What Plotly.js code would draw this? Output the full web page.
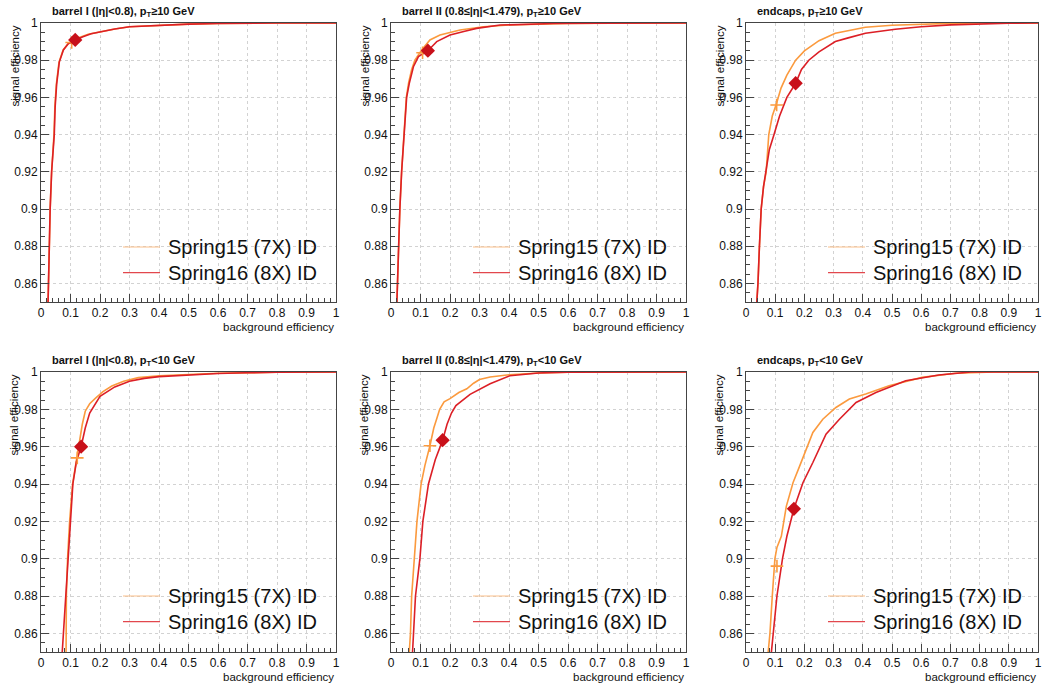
<!DOCTYPE html>
<html><head><meta charset="utf-8">
<script src="https://cdn.plot.ly/plotly-3.0.1.min.js"></script>
<style>html,body{margin:0;padding:0;background:#fff}#chart{width:1043px;height:684px}</style>
</head><body><div id="chart"></div>
<script>
// ---------- data ----------
const seriesNames = ["Spring15 (7X) ID", "Spring16 (8X) ID"];
const panelTitles = [
  "barrel I (|η|<0.8), p<sub>T</sub>≥10 GeV",
  "barrel II (0.8≤|η|<1.479), p<sub>T</sub>≥10 GeV",
  "endcaps, p<sub>T</sub>≥10 GeV",
  "barrel I (|η|<0.8), p<sub>T</sub><10 GeV",
  "barrel II (0.8≤|η|<1.479), p<sub>T</sub><10 GeV",
  "endcaps, p<sub>T</sub><10 GeV"
];
const xAxisTitle = "background efficiency";
const yAxisTitle = "signal efficiency";

// panel 1: barrel I, pT >= 10
const bkg15_b1hi = [0.024,0.027,0.031,0.036,0.044,0.047,0.052,0.061,0.075,0.09,0.104,0.13,0.16,0.2,0.25,0.3,0.4,0.5,0.6,0.7,0.8,1];
const sig15_b1hi = [0.85,0.875,0.90,0.92,0.94,0.955,0.967,0.979,0.9855,0.9885,0.9897,0.9922,0.994,0.9953,0.9968,0.998,0.9988,0.9994,0.9997,0.9999,1,1];
const bkg16_b1hi = [0.024,0.027,0.031,0.036,0.045,0.048,0.053,0.062,0.076,0.093,0.116,0.14,0.17,0.2,0.25,0.3,0.4,0.5,0.6,0.7,0.8,1];
const sig16_b1hi = [0.85,0.875,0.90,0.92,0.94,0.955,0.967,0.979,0.9855,0.989,0.9909,0.9925,0.9942,0.9953,0.9968,0.998,0.9988,0.9994,0.9997,0.9999,1,1];
const wp15_b1hi = [0.104, 0.9895];
const wp16_b1hi = [0.116, 0.9909];

// panel 2: barrel II, pT >= 10
const bkg15_b2hi = [0.02,0.025,0.03,0.036,0.043,0.052,0.06,0.07,0.081,0.093,0.104,0.132,0.166,0.234,0.313,0.4,0.5,0.6,0.75,0.9,1];
const sig15_b2hi = [0.85,0.88,0.90,0.92,0.94,0.96,0.968,0.975,0.980,0.983,0.9855,0.9909,0.9935,0.9962,0.998,0.9989,0.9995,0.9998,0.9999,1,1];
const bkg16_b2hi = [0.02,0.025,0.03,0.036,0.044,0.053,0.062,0.076,0.093,0.11,0.125,0.155,0.2,0.25,0.29,0.37,0.45,0.55,0.7,0.85,1];
const sig16_b2hi = [0.85,0.88,0.90,0.92,0.94,0.96,0.9676,0.9765,0.9819,0.9835,0.9851,0.990,0.9935,0.9956,0.9971,0.9989,0.9994,0.9997,0.9999,1,1];
const wp15_b2hi = [0.107, 0.984];
const wp16_b2hi = [0.125, 0.9851];

// panel 3: endcaps, pT >= 10
const bkg15_eehi = [0.037,0.041,0.046,0.052,0.06,0.069,0.078,0.09,0.105,0.12,0.14,0.17,0.2,0.25,0.306,0.35,0.409,0.5,0.6,0.7,0.8,1];
const sig15_eehi = [0.85,0.86,0.88,0.90,0.912,0.92,0.94,0.95,0.957,0.965,0.972,0.98,0.985,0.9905,0.9945,0.996,0.9977,0.9988,0.9995,0.9998,1,1];
const bkg16_eehi = [0.037,0.041,0.046,0.052,0.06,0.069,0.08,0.096,0.115,0.14,0.17,0.19,0.215,0.25,0.306,0.35,0.409,0.511,0.6,0.7,0.8,0.9,1];
const sig16_eehi = [0.85,0.86,0.88,0.90,0.912,0.92,0.932,0.94,0.95,0.96,0.9676,0.975,0.98,0.9845,0.990,0.992,0.9945,0.9966,0.998,0.999,0.9996,0.9999,1];
const wp15_eehi = [0.105, 0.9559];
const wp16_eehi = [0.17, 0.9676];

// panel 4: barrel I, pT < 10
const bkg15_b1lo = [0.085,0.085,0.086,0.09,0.097,0.107,0.115,0.123,0.132,0.14,0.15,0.165,0.185,0.21,0.24,0.28,0.33,0.4,0.5,0.6,0.8,1];
const sig15_b1lo = [0.85,0.86,0.88,0.90,0.92,0.94,0.948,0.954,0.965,0.972,0.979,0.983,0.986,0.9895,0.9925,0.995,0.997,0.998,0.9987,0.9993,0.9999,1];
const bkg16_b1lo = [0.072,0.076,0.084,0.09,0.098,0.108,0.12,0.136,0.15,0.165,0.2,0.25,0.3,0.35,0.4,0.5,0.6,0.7,0.8,1];
const sig16_b1lo = [0.85,0.86,0.88,0.90,0.92,0.94,0.952,0.96,0.97,0.978,0.987,0.992,0.995,0.9966,0.9975,0.9985,0.9992,0.9996,0.9999,1];
const wp15_b1lo = [0.123, 0.954];
const wp16_b1lo = [0.136, 0.960];

// panel 5: barrel II, pT < 10
const bkg15_b2lo = [0.062,0.066,0.07,0.079,0.088,0.102,0.115,0.132,0.145,0.155,0.165,0.18,0.2,0.23,0.257,0.28,0.3,0.336,0.4,0.5,0.6,1];
const sig15_b2lo = [0.85,0.86,0.88,0.90,0.92,0.94,0.95,0.9605,0.97,0.975,0.98,0.984,0.9857,0.989,0.991,0.994,0.996,0.9973,0.9985,0.9995,0.9999,1];
const bkg16_b2lo = [0.073,0.077,0.083,0.098,0.108,0.127,0.15,0.175,0.19,0.205,0.22,0.268,0.3,0.336,0.403,0.5,0.6,1];
const sig16_b2lo = [0.85,0.86,0.88,0.90,0.92,0.94,0.953,0.9635,0.972,0.978,0.982,0.988,0.9905,0.9937,0.998,0.9995,0.9999,1];
const wp15_b2lo = [0.132, 0.9605];
const wp16_b2lo = [0.175, 0.9635];

// panel 6: endcaps, pT < 10
const bkg15_eelo = [0.076,0.082,0.09,0.099,0.106,0.121,0.138,0.161,0.184,0.206,0.229,0.263,0.308,0.354,0.41,0.49,0.55,0.603,0.717,0.85,1];
const sig15_eelo = [0.85,0.86,0.88,0.90,0.906,0.912,0.928,0.9407,0.9497,0.9586,0.9676,0.9747,0.981,0.9855,0.9882,0.9926,0.995,0.9971,0.9993,1,1];
const bkg16_eelo = [0.087,0.093,0.106,0.125,0.14,0.164,0.195,0.229,0.274,0.32,0.377,0.445,0.547,0.66,0.77,1];
const sig16_eelo = [0.85,0.86,0.88,0.90,0.912,0.9267,0.9407,0.9515,0.9667,0.9747,0.9837,0.989,0.9953,0.9984,1,1];
const wp15_eelo = [0.106, 0.896];
const wp16_eelo = [0.164, 0.9267];

// ---------- assembly ----------
const panels = [
  {b15:bkg15_b1hi,s15:sig15_b1hi,b16:bkg16_b1hi,s16:sig16_b1hi,w15:wp15_b1hi,w16:wp16_b1hi},
  {b15:bkg15_b2hi,s15:sig15_b2hi,b16:bkg16_b2hi,s16:sig16_b2hi,w15:wp15_b2hi,w16:wp16_b2hi},
  {b15:bkg15_eehi,s15:sig15_eehi,b16:bkg16_eehi,s16:sig16_eehi,w15:wp15_eehi,w16:wp16_eehi},
  {b15:bkg15_b1lo,s15:sig15_b1lo,b16:bkg16_b1lo,s16:sig16_b1lo,w15:wp15_b1lo,w16:wp16_b1lo},
  {b15:bkg15_b2lo,s15:sig15_b2lo,b16:bkg16_b2lo,s16:sig16_b2lo,w15:wp15_b2lo,w16:wp16_b2lo},
  {b15:bkg15_eelo,s15:sig15_eelo,b16:bkg16_eelo,s16:sig16_eelo,w15:wp15_eelo,w16:wp16_eelo}
];

const W = 1043, H = 684;
const FONT = "Liberation Sans, Arial, Helvetica, sans-serif";
const ORANGE = "#fb9a3e", RED = "#dc1f26", DRED = "#c8101a";
const LEG_ORANGE = "#fcc08a", LEG_RED = "#e2474d";
const cols = [[41,336],[391,686],[746,1038]];
const rows = [[23,302],[372,652]];
const px = v => v / W, py = v => 1 - v / H;

const traces = [];
const layout = {
  width: W, height: H,
  margin: {l:0, r:0, t:0, b:0},
  paper_bgcolor: "#fff", plot_bgcolor: "#fff",
  font: {family: FONT, color: "#111"},
  showlegend: false,
  annotations: [],
  shapes: []
};

panels.forEach((p, i) => {
  const n = i + 1;
  const c = cols[i % 3], r = rows[Math.floor(i / 3)];
  const xa = "x" + (n === 1 ? "" : n), ya = "y" + (n === 1 ? "" : n);
  traces.push({type:"scatter", mode:"lines", x:p.b15, y:p.s15, xaxis:xa, yaxis:ya,
    name:seriesNames[0], line:{color:ORANGE, width:1.6}, hoverinfo:"skip"});
  traces.push({type:"scatter", mode:"lines", x:p.b16, y:p.s16, xaxis:xa, yaxis:ya,
    name:seriesNames[1], line:{color:RED, width:1.6}, hoverinfo:"skip"});
  traces.push({type:"scatter", mode:"markers", x:[p.w15[0]], y:[p.w15[1]], xaxis:xa, yaxis:ya,
    name:seriesNames[0], marker:{symbol:"cross-thin-open", size:9, color:ORANGE, line:{color:ORANGE, width:1.6}}});
  traces.push({type:"scatter", mode:"markers", x:[p.w16[0]], y:[p.w16[1]], xaxis:xa, yaxis:ya,
    name:seriesNames[1], marker:{symbol:"diamond", size:11, color:DRED, line:{width:0}}});

  const axCommon = {
    ticks:"inside", ticklen:8, tickwidth:1, tickcolor:"#444",
    showline:true, linecolor:"#444", linewidth:1, mirror:true,
    showgrid:true, gridcolor:"#d2d2d2", griddash:"dot", gridwidth:1,
    zeroline:false, fixedrange:true, ticklabeloverflow:"allow",
    tickfont:{size:12, family:FONT, color:"#111"}
  };
  layout["xaxis" + (n === 1 ? "" : n)] = Object.assign({}, axCommon, {
    domain:[px(c[0]), px(c[1])], anchor:ya, range:[0,1], tick0:0, dtick:0.1,
    minor:{dtick:0.02, ticks:"inside", ticklen:4, tickcolor:"#444", showgrid:false}
  });
  layout["yaxis" + (n === 1 ? "" : n)] = Object.assign({}, axCommon, {
    domain:[py(r[1]), py(r[0])], anchor:xa, range:[0.85,1], tick0:0.86, dtick:0.02,
    minor:{dtick:0.005, ticks:"inside", ticklen:4, tickcolor:"#444", showgrid:false}
  });

  // legend drawn per panel (line sample + label)
  const legRows = [r[0] + 224, r[0] + 249.7];
  const legCols = [LEG_ORANGE, LEG_RED];
  seriesNames.forEach((nm, k) => {
    layout.shapes.push({type:"line", xref:"paper", yref:"paper",
      x0:px(c[0] + 82), x1:px(c[0] + 119), y0:py(legRows[k]), y1:py(legRows[k]),
      line:{color:legCols[k], width:1.2}});
    layout.annotations.push({xref:"paper", yref:"paper", x:px(c[0] + 125), y:py(legRows[k]),
      xanchor:"left", yanchor:"middle", text:nm, showarrow:false,
      font:{size:20, family:FONT, color:"#111"}});
  });

  layout.annotations.push({
    xref:"paper", yref:"paper", x:px(c[0] + 9), y:py(r[0] - 11), xanchor:"left", yanchor:"middle",
    text:"<b>" + panelTitles[i] + "</b>", showarrow:false, font:{size:11, family:FONT, color:"#111"}
  });
  layout.annotations.push({
    xref:"paper", yref:"paper", x:px(c[1]), y:py(r[1] + 25), xanchor:"right", yanchor:"middle",
    text:xAxisTitle, showarrow:false, font:{size:11.5, family:FONT, color:"#111"}
  });
  layout.annotations.push({
    xref:"paper", yref:"paper", x:px(c[0] - 27), y:py(r[0] + 1), xanchor:"center", yanchor:"top",
    text:yAxisTitle, textangle:-90, showarrow:false, font:{size:11.5, family:FONT, color:"#111"}
  });
});

Plotly.newPlot("chart", traces, layout, {staticPlot:true, displayModeBar:false});
</script>
</body></html>
